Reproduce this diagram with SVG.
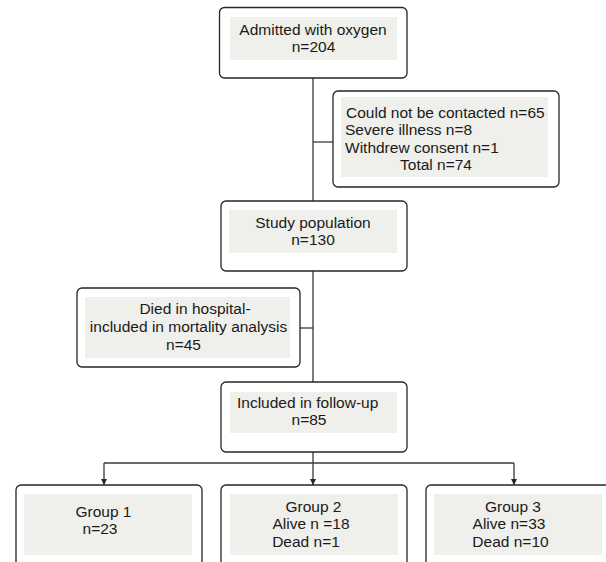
<svg xmlns="http://www.w3.org/2000/svg" width="606" height="562" viewBox="0 0 606 562">
<style>
.box{fill:#fff;stroke:#262626;stroke-width:1.3}
.pad{fill:#efefeb;stroke:none}
.t{font-family:"Liberation Sans",Arial,sans-serif;font-size:15.5px;fill:#1a1a1a}
.m{text-anchor:middle}
.c{fill:none;stroke:#3a3a3a;stroke-width:1.3}
</style>
<defs>
<marker id="ah" viewBox="0 0 8 8" refX="8" refY="4" markerWidth="6" markerHeight="6" markerUnits="userSpaceOnUse" orient="auto">
<path d="M0,0 L8,4 L0,8 z" fill="#262626"/>
</marker>
</defs>
<g id="connectors">
<line class="c" x1="313" y1="78" x2="313" y2="201"/>
<line class="c" x1="313" y1="142" x2="333" y2="142"/>
<line class="c" x1="313" y1="271" x2="313" y2="382"/>
<line class="c" x1="300" y1="328" x2="313" y2="328"/>
<line class="c" x1="313" y1="452" x2="313" y2="463"/>
<line class="c" x1="104" y1="463" x2="514" y2="463"/>
<line class="c" x1="104" y1="463" x2="104" y2="485" marker-end="url(#ah)"/>
<line class="c" x1="313" y1="463" x2="313" y2="485" marker-end="url(#ah)"/>
<line class="c" x1="514" y1="463" x2="514" y2="485" marker-end="url(#ah)"/>
</g>
<g id="admitted">
<rect class="box" x="219.5" y="7.5" width="187.5" height="70.5" rx="5"/>
<rect class="pad" x="230" y="17" width="167" height="43"/>
<text class="t m" x="313" y="35">Admitted with oxygen</text>
<text class="t m" x="313.5" y="52">n=204</text>
</g>
<g id="excluded">
<rect class="box" x="333" y="91" width="226" height="96" rx="5"/>
<rect class="pad" x="341" y="97" width="207" height="80"/>
<text class="t" x="346" y="118">Could not be contacted n=65</text>
<text class="t" x="345" y="135">Severe illness n=8</text>
<text class="t" x="345" y="153">Withdrew consent n=1</text>
<text class="t m" x="436" y="170">Total n=74</text>
</g>
<g id="study">
<rect class="box" x="221" y="201" width="186" height="70" rx="5"/>
<rect class="pad" x="229" y="210" width="168" height="43"/>
<text class="t m" x="313" y="228">Study population</text>
<text class="t m" x="313" y="245">n=130</text>
</g>
<g id="died">
<rect class="box" x="77" y="288" width="223" height="79" rx="5"/>
<rect class="pad" x="85" y="297" width="205" height="61"/>
<text class="t m" x="195" y="314">Died in hospital-</text>
<text class="t m" x="188.5" y="332">included in mortality analysis</text>
<text class="t m" x="183.5" y="350">n=45</text>
</g>
<g id="followup">
<rect class="box" x="221" y="382" width="186" height="70" rx="5"/>
<rect class="pad" x="230" y="392" width="167" height="41"/>
<text class="t" x="237" y="408">Included in follow-up</text>
<text class="t m" x="309" y="425">n=85</text>
</g>
<g id="group1">
<rect class="box" x="16" y="485" width="186" height="110" rx="5"/>
<rect class="pad" x="24" y="494" width="168" height="61"/>
<text class="t m" x="103.5" y="517">Group 1</text>
<text class="t m" x="100" y="534">n=23</text>
</g>
<g id="group2">
<rect class="box" x="221" y="485" width="186" height="110" rx="5"/>
<rect class="pad" x="230" y="494" width="168" height="61"/>
<text class="t m" x="313.5" y="512">Group 2</text>
<text class="t m" x="311" y="529">Alive n =18</text>
<text class="t m" x="306" y="547">Dead n=1</text>
</g>
<g id="group3">
<rect class="box" x="426" y="485" width="186" height="110" rx="5"/>
<rect class="pad" x="434" y="494" width="168" height="61"/>
<text class="t m" x="513" y="512">Group 3</text>
<text class="t m" x="509" y="529">Alive n=33</text>
<text class="t m" x="510.5" y="547">Dead n=10</text>
</g>
</svg>
